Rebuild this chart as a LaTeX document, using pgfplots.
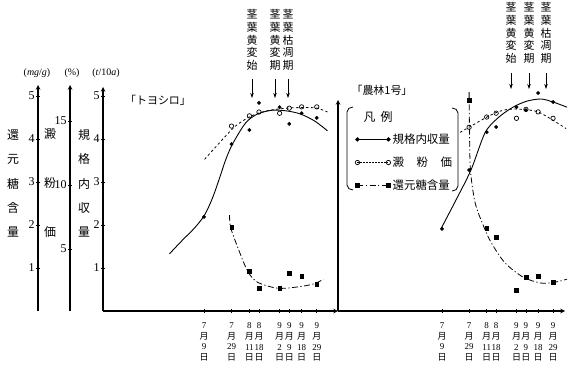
\documentclass[border=0pt]{standalone}
\usepackage{fontspec}
\setmainfont{Liberation Serif}
\newfontfamily\jp{Noto Sans CJK JP}
\usepackage{pgfplots}
\pgfplotsset{compat=1.18}
\usetikzlibrary{arrows.meta}

\newcommand\dl[2]{#1\\{\jp 月}\\#2\\{\jp 日}}

\pgfplotsset{
  base/.style={scale only axis, clip=false,
    axis line style={-, line width=1.1pt, black},
    every tick/.style={black, line width=0.6pt},
    tick align=inside, major tick length=3.5bp,
    yticklabel style={font=\fontsize{12}{12}\selectfont, inner sep=1.5bp},
    xticklabel style={font=\fontsize{9}{10.6}\selectfont, align=center, inner sep=1bp, yshift=-9bp},
    /pgf/number format/assume math mode=true,
  },
  yieldcurve/.style={black, line width=0.9pt, smooth, no marks},
  starchcurve/.style={black, line width=0.8pt, smooth, dash pattern=on 2.5bp off 2.5bp, no marks},
  sugarcurve/.style={black, line width=0.8pt, smooth, dash pattern=on 6bp off 2.5bp on 1.2bp off 2.5bp, no marks},
  yieldpts/.style={only marks, mark=*, mark size=1.7bp, black},
  starchpts/.style={only marks, mark=o, mark size=2.2bp, black, mark options={fill=white, line width=0.7pt}},
  sugarpts/.style={only marks, mark=square*, mark size=1.8bp, black},
  datex/.style={xtick={0,20,33,40,55,62,71,82},
    xticklabels={\dl{7}{9},\dl{7}{29},\dl{8}{11},\dl{8}{18},\dl{9}{2},\dl{9}{9},\dl{9}{18},\dl{9}{29}}},
}

\begin{document}
\begin{tikzpicture}[x=1bp,y=1bp]
\path[use as bounding box] (0,0) rectangle (579,378);

% ---------------- left panel: トヨシロ ----------------
% yield (t/10a)
\begin{axis}[base, at={(103bp,67bp)}, anchor=south west, width=235bp, height=224bp,
  xmin=-73.45, xmax=97.45, ymin=0, ymax=5.209,
  axis x line=bottom, axis y line=left, datex, ytick={1,2,3,4,5}]
\addplot[yieldcurve] coordinates {(-25.1,1.33) (-15.6,1.65) (-6.9,1.93) (0.4,2.23) (6.2,2.63) (11.3,3.09) (15.7,3.51) (20.7,3.88) (30.2,4.37) (38.9,4.58) (49.8,4.67) (60.7,4.65) (70.2,4.58) (80.4,4.42) (89.8,4.19)};
\addplot[yieldpts] coordinates {(0,2.19) (20,3.88) (33,4.21) (40,4.84) (55,4.74) (62,4.35) (71,4.6) (82,4.49)};
\end{axis}
% starch (%)
\begin{axis}[base, at={(70bp,67bp)}, anchor=south west, width=268bp, height=226bp,
  xmin=-97.45, xmax=97.45, ymin=0.15, ymax=17.81,
  axis x line=none, axis y line=left, xtick=\empty, ytick={5,10,15}]
\addplot[starchcurve] coordinates {(0.4,12.0) (11.3,13.3) (22.9,14.6) (34.6,15.4) (46.2,15.8) (60.2,16.0) (73.2,16.05) (82.2,16.0) (89.8,15.7)};
\addplot[starchpts] coordinates {(20,14.6) (33,15.4) (40,15.7) (55,15.6) (62,16.0) (71,16.1) (82,16.1)};
\end{axis}
% reducing sugar (mg/g)
\begin{axis}[base, at={(38bp,67bp)}, anchor=south west, width=300bp, height=226bp,
  xmin=-120.73, xmax=97.45, ymin=0, ymax=5.256,
  axis x line=none, axis y line=left, xtick=\empty, ytick={1,2,3,4,5}]
\addplot[sugarcurve] coordinates {(18.6,2.23) (19.3,1.95) (24.4,1.49) (31.7,0.93) (38.9,0.67) (53.5,0.53) (68,0.56) (79.7,0.63) (86.9,0.74)};
\addplot[sugarpts] coordinates {(20,1.95) (33,0.93) (40,0.53) (55,0.53) (62,0.88) (71,0.81) (82,0.63)};
\end{axis}

% ---------------- right panel: 農林1号 ----------------
\begin{axis}[base, at={(338bp,67bp)}, anchor=south west, width=227bp, height=211bp,
  xmin=-76.81, xmax=90.84, ymin=0, ymax=4.907,
  axis x line=bottom, axis y line=left, datex, ytick=\empty,
  legend image code/.code={\draw[#1] plot coordinates {(0bp,0bp) (31bp,0bp)};},
  legend style={at={(axis description cs:0.075,0.85)}, anchor=north west, draw=none, fill=none,
    inner sep=0pt, row sep=8bp, font=\jp\fontsize{11.5}{12}\selectfont, cells={anchor=west}}]
\addlegendimage{black, line width=0.9pt, mark=*, mark size=1.7bp}
\addlegendentry{規格内収量}
\addlegendimage{black, line width=0.8pt, dash pattern=on 1.5bp off 1.5bp, mark=o, mark size=2.2bp, mark options={solid, fill=white, line width=0.7pt}}
\addlegendentry{澱\hspace{12.5bp}粉\hspace{12.5bp}価}
\addlegendimage{black, line width=0.8pt, dash pattern=on 6bp off 2.5bp on 1.2bp off 2.5bp, mark=square*, mark size=1.8bp, mark options={solid}}
\addlegendentry{還元糖含量}
\addplot[yieldcurve] coordinates {(-0.8,1.91) (10.3,2.58) (21.4,3.28) (31.7,4.14) (41.3,4.49) (52.4,4.74) (62.7,4.88) (73.1,4.93) (82,4.86) (92.3,4.74)};
\addplot[yieldpts] coordinates {(0,1.91) (20,3.28) (33,4.16) (40,4.28) (55,4.74) (62,4.67) (71,5.07) (82,4.86)};
\end{axis}
\begin{axis}[base, at={(338bp,67bp)}, anchor=south west, width=227bp, height=211bp,
  xmin=-76.81, xmax=90.84, ymin=0.15, ymax=16.63, hide axis]
\addplot[starchcurve] coordinates {(13.3,14.1) (19.9,14.5) (33.2,15.3) (41.3,15.7) (48.7,15.9) (59.8,15.9) (70.9,15.7) (82.7,15.0) (91.6,14.4)};
\addplot[starchpts] coordinates {(20,14.5) (33,15.3) (40,15.6) (55,15.2) (62,15.9) (71,15.7) (82,15.2)};
\end{axis}
\begin{axis}[base, at={(338bp,67bp)}, anchor=south west, width=227bp, height=211bp,
  xmin=-76.81, xmax=90.84, ymin=0, ymax=4.907, hide axis]
\addplot[sugarcurve] coordinates {(20,5.09) (20.3,4.2) (21,3.28) (24.5,2.51) (31,1.95) (36.5,1.58) (46.5,1.12) (59.8,0.79) (73,0.65) (83.4,0.67) (92.3,0.74)};
\addplot[sugarpts] coordinates {(20,4.9) (33,1.93) (40,1.72) (55,0.49) (62,0.79) (71,0.81) (82,0.67)};
\end{axis}

% ---------------- texts ----------------
\node[font=\fontsize{10}{10}\selectfont, inner sep=0] at (37,378-73) {(\textit{mg}/\textit{g})};
\node[font=\fontsize{10}{10}\selectfont, inner sep=0] at (72,378-73) {(\%)};
\node[font=\fontsize{10}{10}\selectfont, inner sep=0] at (106,378-73) {(\textit{t}/10\textit{a})};

\node[font=\jp\fontsize{12}{24.5}\selectfont, align=center, inner sep=0] at (13,378-183.5) {還\\元\\糖\\含\\量};
\node[font=\jp\fontsize{12}{49.5}\selectfont, align=center, inner sep=0] at (50,378-183) {澱\\粉\\価};
\node[font=\jp\fontsize{12}{24.5}\selectfont, align=center, inner sep=0] at (84,378-183.5) {規\\格\\内\\収\\量};

\node[font=\jp\fontsize{11}{11}\selectfont, inner sep=0] at (158,378-100) {「トヨシロ」};
\node[font=\jp\fontsize{11}{11}\selectfont, inner sep=0] at (382,378-90) {「農林1号」};
\node[font=\jp\fontsize{12}{12}\selectfont, inner sep=0] at (378,378-117) {凡\hspace{5bp}例};

% legend brackets
\draw[line width=0.8pt] (353,378-107) to[out=180,in=90] (347,378-112) -- (347,378-185) to[out=-90,in=180] (353,378-190);
\draw[line width=0.8pt] (452,378-108) to[out=0,in=90] (458,378-113) -- (458,378-186) to[out=-90,in=0] (452,378-191);

% stage annotations
\foreach \xx/\txt in {252/{茎\\葉\\黄\\変\\始}, 275/{茎\\葉\\黄\\変\\期}, 288/{茎\\葉\\枯\\凋\\期}}{
  \node[font=\jp\fontsize{11}{12.7}\selectfont, align=center, inner sep=0] at (\xx,378-40) {\txt};
  \draw[-{Stealth[length=5bp,width=3.5bp]}, line width=0.7pt] (\xx,378-79) -- (\xx,378-98);
}
\foreach \xx/\txt in {511/{茎\\葉\\黄\\変\\始}, 529/{茎\\葉\\黄\\変\\期}, 546/{茎\\葉\\枯\\凋\\期}}{
  \node[font=\jp\fontsize{11}{12.7}\selectfont, align=center, inner sep=0] at (\xx,378-33) {\txt};
  \draw[-{Stealth[length=5bp,width=3.5bp]}, line width=0.7pt] (\xx,378-73) -- (\xx,378-89);
}
\end{tikzpicture}
\end{document}
